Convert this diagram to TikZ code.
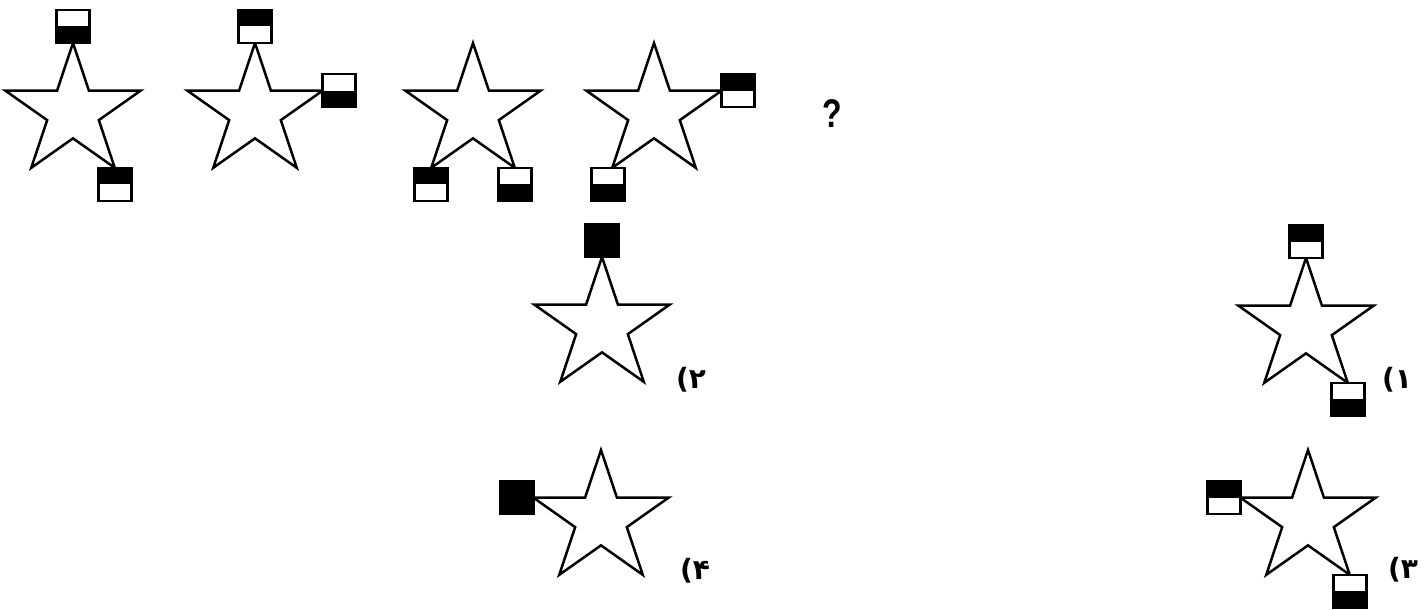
\documentclass[tikz,border=0pt]{standalone}
\usepackage{fontspec}
\newfontfamily\fa{DejaVu Sans}[BoldFont={DejaVu Sans Bold}]
\newfontfamily\qfont{Liberation Sans}
\usetikzlibrary{shapes.geometric}
\begin{document}
\begin{tikzpicture}[x=1pt,y=-1pt,
  starbox/.style={star, star points=5, star point ratio=2.618, minimum size=138pt,
    inner sep=0pt, outer sep=0pt, draw=black, line width=2.5pt, fill=white, xscale=1.03},
  sqbase/.style={rectangle, minimum size=33pt, inner sep=0pt, outer sep=0pt, draw=black, line width=2.5pt, fill=white},
  sqwb/.style={sqbase, path picture={\fill[black] (path picture bounding box.west) rectangle (path picture bounding box.south east);}},
  sqbw/.style={sqbase, path picture={\fill[black] (path picture bounding box.north west) rectangle (path picture bounding box.east);}},
  sqfull/.style={sqbase, fill=black},
  optlabel/.style={font=\fa\bfseries\fontsize{28}{30}\selectfont, inner sep=0pt}
]
\useasboundingbox (0,0) rectangle (1425,610);
% question row
\node[starbox] (s1) at (73,112) {};
\node[sqwb, anchor=south] (q1a) at (s1.outer point 1) {};
\node[sqbw, anchor=north] (q1b) at (s1.outer point 4) {};

\node[starbox] (s2) at (255,112) {};
\node[sqbw, anchor=south] (q2a) at (s2.outer point 1) {};
\node[sqwb, anchor=west] (q2b) at (s2.outer point 5) {};

\node[starbox] (s3) at (473,112) {};
\node[sqbw, anchor=north] (q3a) at (s3.outer point 3) {};
\node[sqwb, anchor=north] (q3b) at (s3.outer point 4) {};

\node[starbox] (s4) at (654,112) {};
\node[sqbw, anchor=west] (q4a) at (s4.outer point 5) {};
\node[sqwb, anchor=north] (q4b) at ([xshift=-4pt]s4.outer point 3) {};

\node[font=\qfont\bfseries\fontsize{40}{42}\selectfont, xscale=0.8, inner sep=0pt] (qm) at (832,114) {?};

% options
\node[starbox] (o2) at (602,326) {};
\node[sqfull, anchor=south] (o2a) at (o2.outer point 1) {};
\node[optlabel] (l2) at (691,380) {(۲};

\node[starbox] (o1) at (1306,327) {};
\node[sqbw, anchor=south] (o1a) at (o1.outer point 1) {};
\node[sqwb, anchor=north] (o1b) at (o1.outer point 4) {};
\node[optlabel] (l1) at (1397,380) {(۱};

\node[starbox] (o4) at (601,519) {};
\node[sqfull, anchor=east] (o4a) at (o4.outer point 2) {};
\node[optlabel] (l4) at (695,571) {(۴};

\node[starbox] (o3) at (1308,519) {};
\node[sqbw, anchor=east] (o3a) at (o3.outer point 2) {};
\node[sqwb, anchor=north] (o3b) at (o3.outer point 4) {};
\node[optlabel] (l3) at (1403,570) {(۳};
\end{tikzpicture}
\end{document}
